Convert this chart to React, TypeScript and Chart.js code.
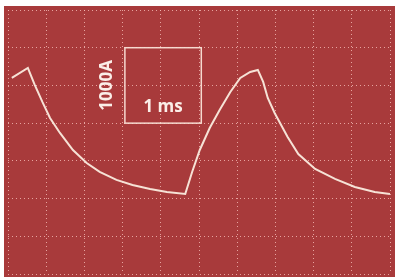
import React, { useEffect, useRef } from "react";
import { Chart, registerables } from "chart.js";

Chart.register(...registerables);

// Time (ms) and current (A) samples
const timeMs = [0.05, 0.26, 0.35, 0.45, 0.55, 0.68, 0.85, 1.03, 1.2, 1.42, 1.63, 1.86, 2.08, 2.32, 2.41, 2.51, 2.64, 2.77, 2.91, 3.04, 3.17, 3.27, 3.34, 3.4, 3.49, 3.66, 3.8, 4.02, 4.28, 4.54, 4.8, 5.0];
const currentA = [2599, 2732, 2506, 2281, 2069, 1870, 1644, 1472, 1353, 1247, 1180, 1127, 1087, 1061, 1353, 1644, 1936, 2175, 2413, 2599, 2679, 2705, 2546, 2334, 2135, 1817, 1591, 1392, 1260, 1154, 1087, 1061];

// Scale box (1 ms by 1000 A)
const scaleBoxTime = [1.53, 2.53];
const scaleBoxCurrent = [2000, 3000];
const timeLabel = "1 ms";
const currentLabel = "1000A";

const xRange = [0, 5];
const yRange = [0, 3500];
const xStep = 0.5;
const yStep = 500;

export default function App() {
  const ref = useRef<HTMLCanvasElement | null>(null);

  useEffect(() => {
    const canvas = ref.current;
    if (!canvas) return;

    const bgPlugin = {
      id: "bg",
      beforeDraw(chart: any) {
        const ctx = chart.ctx;
        ctx.save();
        ctx.fillStyle = "#ffffff";
        ctx.fillRect(0, 0, chart.width, chart.height);
        ctx.fillStyle = "#a83a3b";
        ctx.fillRect(4, 6, chart.width - 4, chart.height - 6);
        ctx.restore();
      },
    };

    const boxPlugin = {
      id: "scalebox",
      afterDatasetsDraw(chart: any) {
        const ctx = chart.ctx;
        const xs = chart.scales.x;
        const ys = chart.scales.y;
        const x0 = xs.getPixelForValue(scaleBoxTime[0]);
        const x1 = xs.getPixelForValue(scaleBoxTime[1]);
        const y0 = ys.getPixelForValue(scaleBoxCurrent[1]);
        const y1 = ys.getPixelForValue(scaleBoxCurrent[0]);
        ctx.save();
        ctx.strokeStyle = "rgba(250,225,215,0.95)";
        ctx.lineWidth = 1.5;
        ctx.strokeRect(x0, y0, x1 - x0, y1 - y0);
        ctx.fillStyle = "#fbeee8";
        ctx.font = "bold 17px 'Open Sans'";
        ctx.textAlign = "center";
        ctx.textBaseline = "middle";
        ctx.fillText(timeLabel, (x0 + x1) / 2, y1 - 16);
        ctx.translate(x0 - 18, (y0 + y1) / 2);
        ctx.rotate(-Math.PI / 2);
        ctx.fillText(currentLabel, 0, 0);
        ctx.restore();
      },
    };

    const gridColor = "rgba(245,190,185,0.8)";

    const chart = new Chart(canvas, {
      type: "line",
      data: {
        datasets: [
          {
            data: timeMs.map((t, i) => ({ x: t, y: currentA[i] })),
            borderColor: "#f6e2d6",
            borderWidth: 2,
            pointRadius: 0,
            tension: 0,
            fill: false,
          },
        ],
      },
      options: {
        responsive: false,
        animation: false,
        events: [],
        layout: { padding: { left: 8, right: 5, top: 10, bottom: 3 } },
        plugins: { legend: { display: false }, tooltip: { enabled: false } },
        scales: {
          x: {
            type: "linear",
            min: xRange[0],
            max: xRange[1],
            ticks: { display: false, stepSize: xStep },
            border: { display: false, dash: [1, 3] },
            grid: { color: gridColor, lineWidth: 1, drawTicks: false },
          },
          y: {
            type: "linear",
            min: yRange[0],
            max: yRange[1],
            ticks: { display: false, stepSize: yStep },
            border: { display: false, dash: [1, 3] },
            grid: { color: gridColor, lineWidth: 1, drawTicks: false },
          },
        },
      },
      plugins: [bgPlugin, boxPlugin],
    });
    return () => chart.destroy();
  }, []);

  return (
    <div style={{ position: "fixed", left: 0, top: 0, width: 395, height: 277 }}>
      <canvas ref={ref} width={395} height={277} style={{ display: "block" }} />
    </div>
  );
}
